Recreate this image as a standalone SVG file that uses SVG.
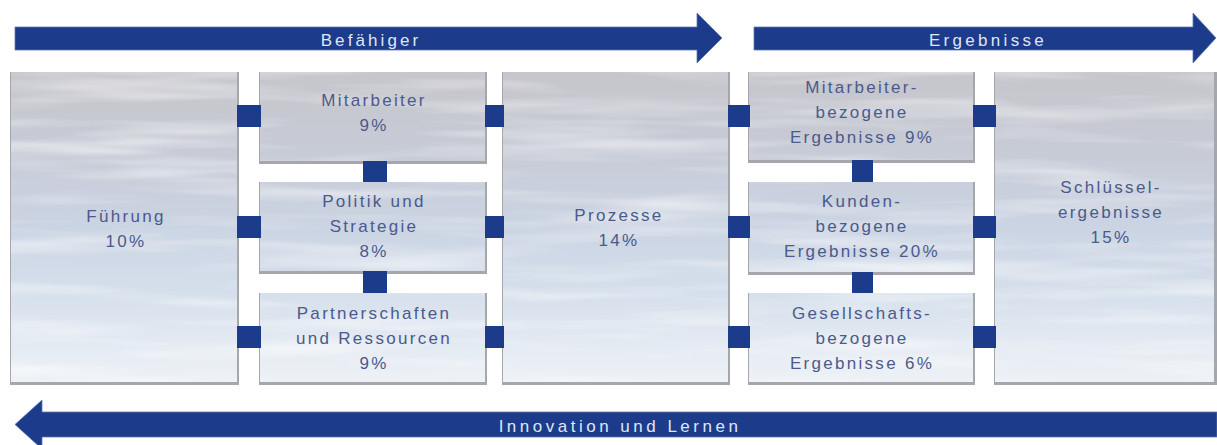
<svg xmlns="http://www.w3.org/2000/svg" width="1217" height="445" viewBox="0 0 1217 445">
  <defs>
    <!-- sky fill shared by every panel, continuous across the canvas -->
    <linearGradient id="sky" gradientUnits="userSpaceOnUse" x1="0" y1="72" x2="0" y2="383">
      <stop offset="0" stop-color="#c6c6cc"/>
      <stop offset="0.25" stop-color="#c7cbd6"/>
      <stop offset="0.5" stop-color="#cbd4e3"/>
      <stop offset="0.72" stop-color="#d6e0ec"/>
      <stop offset="1" stop-color="#eef2f7"/>
    </linearGradient>
    <!-- faint horizontal cloud streaks laid over the sky fill -->
    <filter id="streaks" x="0" y="0" width="1" height="1" color-interpolation-filters="sRGB">
      <feTurbulence type="fractalNoise" baseFrequency="0.004 0.05" numOctaves="3" seed="7" result="noise"/>
      <feColorMatrix in="noise" type="matrix" values="0 0 0 0 1  0 0 0 0 1  0 0 0 0 1  1.3 0 0 0 -0.58" result="white"/>
      <feComposite in="white" in2="SourceAlpha" operator="in" result="clip"/>
      <feMerge>
        <feMergeNode in="SourceGraphic"/>
        <feMergeNode in="clip"/>
      </feMerge>
    </filter>
    <style>
      .shadow { fill: #a6a7ac; }
      .panel { fill: url(#sky); filter: url(#streaks); }
      .label { font-family: "Liberation Sans", Arial, sans-serif; font-size: 17px; letter-spacing: 2.3px; fill: #4a5a8c; text-anchor: middle; }
      .band { fill: #1d3b8b; stroke: #5d77b4; stroke-width: 0.8; }
      .band-text { font-family: "Liberation Sans", Arial, sans-serif; font-size: 17px; fill: #dfe7f4; text-anchor: middle; }
      .link { fill: #1d3b8b; }
    </style>
  </defs>

  <rect width="1217" height="445" fill="#ffffff"/>

  <!-- direction bands -->
  <g id="band-befaehiger">
    <path class="band" d="M15,27 H697 V13 L722,38 L697,63 V50 H15 Z"/>
    <text class="band-text" x="371" y="45.5" style="letter-spacing:3.1px">Befähiger</text>
  </g>
  <g id="band-ergebnisse">
    <path class="band" d="M754,27 H1193 V13 L1216,38 L1193,63 V50 H754 Z"/>
    <text class="band-text" x="988" y="45.5" style="letter-spacing:3.3px">Ergebnisse</text>
  </g>
  <g id="band-innovation">
    <path class="band" d="M1217,412 H42 V400 L15,424.5 L42,449 V437 H1217 Z"/>
    <text class="band-text" x="620" y="432" style="letter-spacing:3.5px">Innovation und Lernen</text>
  </g>

  <!-- panels -->
  <g id="fuehrung">
    <rect class="shadow" x="10" y="72" width="229" height="313"/>
    <rect class="panel" x="11" y="72" width="226" height="310"/>
    <text class="label" x="126" y="221.5">Führung</text>
    <text class="label" x="126" y="246.5">10%</text>
  </g>
  <g id="mitarbeiter">
    <rect class="shadow" x="259" y="72" width="228" height="92"/>
    <rect class="panel" x="260" y="72" width="225" height="89"/>
    <text class="label" x="374" y="105.5">Mitarbeiter</text>
    <text class="label" x="374" y="131">9%</text>
  </g>
  <g id="politik-strategie">
    <rect class="shadow" x="259" y="182" width="228" height="92"/>
    <rect class="panel" x="260" y="182" width="225" height="89"/>
    <text class="label" x="374" y="207">Politik und</text>
    <text class="label" x="374" y="232">Strategie</text>
    <text class="label" x="374" y="257">8%</text>
  </g>
  <g id="partnerschaften">
    <rect class="shadow" x="259" y="293" width="228" height="92"/>
    <rect class="panel" x="260" y="293" width="225" height="89"/>
    <text class="label" x="374" y="319">Partnerschaften</text>
    <text class="label" x="374" y="344">und Ressourcen</text>
    <text class="label" x="374" y="369">9%</text>
  </g>
  <g id="prozesse">
    <rect class="shadow" x="502" y="72" width="228" height="313"/>
    <rect class="panel" x="503" y="72" width="225" height="310"/>
    <text class="label" x="619" y="220.5">Prozesse</text>
    <text class="label" x="619" y="245.5">14%</text>
  </g>
  <g id="mitarbeiter-ergebnisse">
    <rect class="shadow" x="748" y="72" width="227" height="91"/>
    <rect class="panel" x="749" y="72" width="224" height="88"/>
    <text class="label" x="862" y="93">Mitarbeiter-</text>
    <text class="label" x="862" y="118">bezogene</text>
    <text class="label" x="862" y="143">Ergebnisse 9%</text>
  </g>
  <g id="kunden-ergebnisse">
    <rect class="shadow" x="748" y="182" width="227" height="93"/>
    <rect class="panel" x="749" y="182" width="224" height="90"/>
    <text class="label" x="862" y="207">Kunden-</text>
    <text class="label" x="862" y="232">bezogene</text>
    <text class="label" x="862" y="257">Ergebnisse 20%</text>
  </g>
  <g id="gesellschaft-ergebnisse">
    <rect class="shadow" x="748" y="293" width="227" height="92"/>
    <rect class="panel" x="749" y="293" width="224" height="89"/>
    <text class="label" x="862" y="319">Gesellschafts-</text>
    <text class="label" x="862" y="344">bezogene</text>
    <text class="label" x="862" y="369">Ergebnisse 6%</text>
  </g>
  <g id="schluesselergebnisse">
    <rect class="shadow" x="994" y="72" width="223" height="313"/>
    <rect class="panel" x="995" y="72" width="219" height="310"/>
    <text class="label" x="1111" y="193">Schlüssel-</text>
    <text class="label" x="1111" y="218">ergebnisse</text>
    <text class="label" x="1111" y="243">15%</text>
  </g>

  <!-- square joints between panels -->
  <g id="connectors">
    <rect class="link" x="237" y="105" width="24" height="22"/>
    <rect class="link" x="237" y="216" width="24" height="22"/>
    <rect class="link" x="237" y="326" width="24" height="22"/>

    <rect class="link" x="363" y="161" width="24" height="21"/>
    <rect class="link" x="363" y="271" width="24" height="22"/>

    <rect class="link" x="485" y="105" width="19" height="22"/>
    <rect class="link" x="485" y="216" width="19" height="22"/>
    <rect class="link" x="485" y="326" width="19" height="22"/>

    <rect class="link" x="728" y="105" width="22" height="22"/>
    <rect class="link" x="728" y="216" width="22" height="22"/>
    <rect class="link" x="728" y="326" width="22" height="22"/>

    <rect class="link" x="852" y="160" width="21" height="22"/>
    <rect class="link" x="852" y="272" width="21" height="21"/>

    <rect class="link" x="973" y="105" width="23" height="22"/>
    <rect class="link" x="973" y="216" width="23" height="22"/>
    <rect class="link" x="973" y="326" width="23" height="22"/>
  </g>
</svg>
